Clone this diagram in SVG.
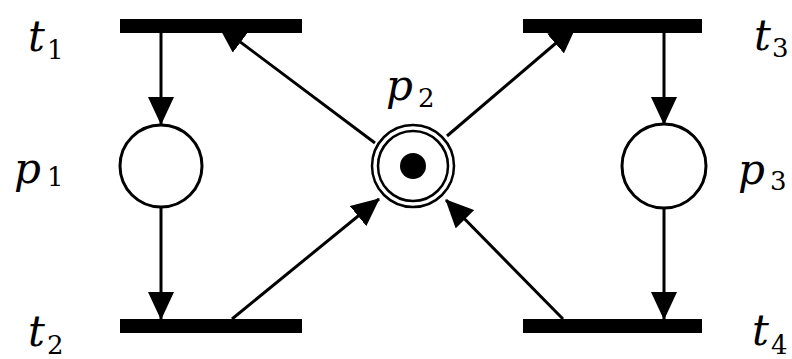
<svg xmlns="http://www.w3.org/2000/svg" width="792" height="359" viewBox="0 0 792 359">
<style>
.bar{fill:#000}
.place{fill:#fff;stroke:#000;stroke-width:3}
.edge{stroke:#000;stroke-width:3;fill:none;marker-end:url(#ah)}
.lbl{font-family:'DejaVu Serif',serif;font-style:italic;font-size:42px;fill:#000}
.sub{font-family:'DejaVu Serif',serif;font-size:26px;fill:#000}
</style>
<defs>
<marker id="ah" markerUnits="userSpaceOnUse" viewBox="0 0 28 26" markerWidth="28" markerHeight="26" refX="27" refY="13" orient="auto">
<path d="M0,0 L28,13 L0,26 z" fill="#000"/>
</marker>
</defs>
<rect width="792" height="359" fill="#fff"/>
<g id="connectors">
<line class="edge" x1="161" y1="33" x2="161" y2="124"/>
<line class="edge" x1="161" y1="208" x2="161" y2="319"/>
<line class="edge" x1="664" y1="33" x2="664" y2="124"/>
<line class="edge" x1="664" y1="208" x2="664" y2="319"/>
<line class="edge" x1="375" y1="143" x2="219" y2="26"/>
<line class="edge" x1="447" y1="136" x2="576" y2="26"/>
<line class="edge" x1="232" y1="319" x2="379" y2="199"/>
<line class="edge" x1="563" y1="319" x2="446" y2="200"/>
</g>
<g id="t1">
<rect class="bar" x="120" y="19" width="182" height="14"/>
<text class="lbl" x="28" y="51">t</text><text class="sub" x="47" y="59">1</text>
</g>
<g id="t2">
<rect class="bar" x="120" y="319" width="182" height="14"/>
<text class="lbl" x="28" y="346">t</text><text class="sub" x="47" y="354">2</text>
</g>
<g id="t3">
<rect class="bar" x="523" y="19" width="179" height="14"/>
<text class="lbl" x="754" y="50">t</text><text class="sub" x="772" y="57">3</text>
</g>
<g id="t4">
<rect class="bar" x="523" y="319" width="179" height="14"/>
<text class="lbl" x="752" y="345">t</text><text class="sub" x="771" y="354">4</text>
</g>
<g id="p1">
<circle class="place" cx="161" cy="166" r="41"/>
<text class="lbl" x="14" y="183">p</text><text class="sub" x="47" y="186">1</text>
</g>
<g id="p2">
<circle class="place" cx="413" cy="166" r="41" style="stroke-width:2.5"/>
<circle class="place" cx="413" cy="166" r="35" style="stroke-width:2.5"/>
<circle cx="413" cy="166" r="13" fill="#000"/>
<text class="lbl" x="386" y="100">p</text><text class="sub" x="418" y="107">2</text>
</g>
<g id="p3">
<circle class="place" cx="664" cy="166" r="42"/>
<text class="lbl" x="738" y="184">p</text><text class="sub" x="770" y="190">3</text>
</g>
</svg>
